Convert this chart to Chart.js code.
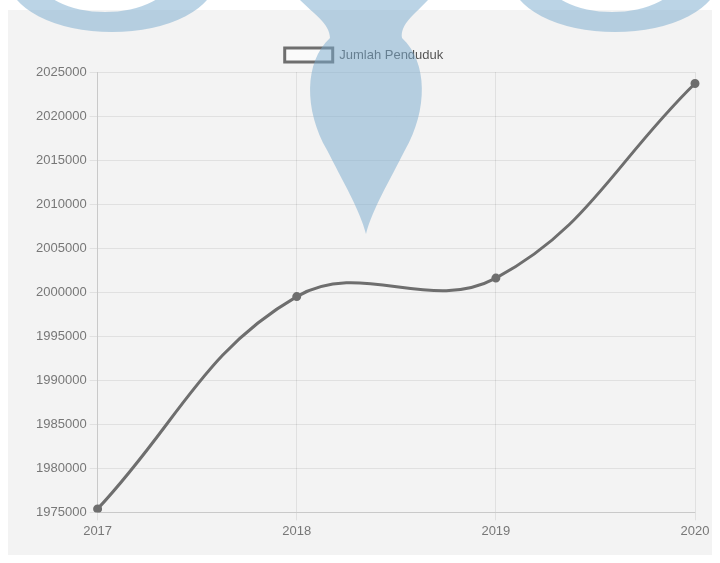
<!DOCTYPE html>
<html>
<head>
<meta charset="utf-8">
<title>Jumlah Penduduk</title>
<script src="https://cdn.jsdelivr.net/npm/chart.js@4"></script>
<style>
  html, body { margin: 0; padding: 0; background: #ffffff; }
  #wrap { position: relative; width: 720px; height: 563px; }
</style>
</head>
<body>
<div id="wrap"><canvas id="chart"></canvas></div>
<script>
// Population per year
const years = ['2017', '2018', '2019', '2020'];
const population = [1975400, 1999500, 2001600, 2023700];
const seriesLabel = 'Jumlah Penduduk';
const yMin = 1975000;
const yMax = 2025000;
const yStep = 5000;

// Light grey panel behind the chart
const panelBg = {
  id: 'panelBg',
  beforeDraw(chart) {
    const ctx = chart.ctx;
    ctx.save();
    ctx.fillStyle = '#f3f3f3';
    ctx.fillRect(8, 10, 704, 545);
    ctx.restore();
  }
};

// Blue logo mark laid over the top of the page
const logoMark = {
  id: 'logoMark',
  afterDraw(chart) {
    const ctx = chart.ctx;
    ctx.save();
    ctx.fillStyle = 'rgba(120,170,205,0.5)';

    // left and right arcs
    [[112, 105], [615, 612]].forEach(([cx, ci]) => {
      ctx.beginPath();
      ctx.ellipse(cx, -22, 104, 54, 0, 0, Math.PI * 2);
      ctx.ellipse(ci, -22, 66, 34, 0, 0, Math.PI * 2, true);
      ctx.fill('evenodd');
    });

    // centre drop
    ctx.beginPath();
    ctx.moveTo(300, 0);
    ctx.lineTo(428, 0);
    ctx.bezierCurveTo(415, 14, 400, 24, 402, 38);
    ctx.bezierCurveTo(428, 62, 428, 110, 405, 150);
    ctx.bezierCurveTo(390, 180, 372, 210, 366, 234);
    ctx.bezierCurveTo(360, 210, 342, 180, 327, 150);
    ctx.bezierCurveTo(304, 110, 304, 62, 330, 38);
    ctx.bezierCurveTo(330, 24, 314, 14, 300, 0);
    ctx.closePath();
    ctx.fill();
    ctx.restore();
  }
};

Chart.defaults.font.size = 13;
Chart.defaults.color = '#666';

new Chart(document.getElementById('chart'), {
  type: 'line',
  data: {
    labels: years,
    datasets: [{
      label: seriesLabel,
      data: population,
      borderColor: 'rgba(110,110,110,1)',
      backgroundColor: 'rgba(255,255,255,0.6)',
      borderWidth: 3,
      pointRadius: 3,
      pointBackgroundColor: 'rgba(110,110,110,1)',
      pointBorderColor: 'rgba(110,110,110,1)',
      tension: 0.4,
      fill: false
    }]
  },
  options: {
    responsive: true,
    maintainAspectRatio: false,
    animation: false,
    layout: { padding: { left: 33, right: 25, top: 38, bottom: 21 } },
    plugins: {
      legend: {
        display: true,
        position: 'top',
        labels: { boxWidth: 48, boxHeight: 14, color: '#555' }
      },
      tooltip: { enabled: false }
    },
    scales: {
      x: {
        grid: { color: 'rgba(0,0,0,0.08)' },
        ticks: { color: '#777' }
      },
      y: {
        min: yMin,
        max: yMax,
        ticks: {
          stepSize: yStep,
          color: '#777',
          callback: (v) => String(v)
        },
        grid: { color: 'rgba(0,0,0,0.08)' }
      }
    }
  },
  plugins: [panelBg, logoMark]
});
</script>
</body>
</html>
